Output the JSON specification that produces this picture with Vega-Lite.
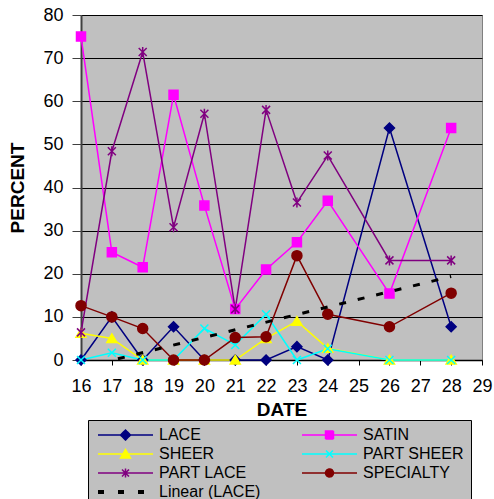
{
  "$schema": "https://vega.github.io/schema/vega-lite/v6.json",
  "width": 401,
  "height": 345,
  "autosize": "none",
  "padding": {"left": 81, "top": 15, "right": 12, "bottom": 139},
  "background": "white",
  "config": {
    "view": {"fill": "#C0C0C0", "stroke": "#808080", "strokeWidth": 1},
    "font": "Liberation Sans"
  },
  "data": {
    "values": [
      {"s": "LACE", "d": 16, "v": 0}, {"s": "LACE", "d": 17, "v": 10}, {"s": "LACE", "d": 18, "v": 0},
      {"s": "LACE", "d": 19, "v": 7.7}, {"s": "LACE", "d": 20, "v": 0}, {"s": "LACE", "d": 21, "v": 0},
      {"s": "LACE", "d": 22, "v": 0}, {"s": "LACE", "d": 23, "v": 3.1}, {"s": "LACE", "d": 24, "v": 0},
      {"s": "LACE", "d": 26, "v": 53.8}, {"s": "LACE", "d": 28, "v": 7.7},
      {"s": "SATIN", "d": 16, "v": 75}, {"s": "SATIN", "d": 17, "v": 25}, {"s": "SATIN", "d": 18, "v": 21.5},
      {"s": "SATIN", "d": 19, "v": 61.5}, {"s": "SATIN", "d": 20, "v": 35.8}, {"s": "SATIN", "d": 21, "v": 11.8},
      {"s": "SATIN", "d": 22, "v": 21}, {"s": "SATIN", "d": 23, "v": 27.3}, {"s": "SATIN", "d": 24, "v": 36.9},
      {"s": "SATIN", "d": 26, "v": 15.4}, {"s": "SATIN", "d": 28, "v": 53.8},
      {"s": "SHEER", "d": 16, "v": 6.2}, {"s": "SHEER", "d": 17, "v": 5}, {"s": "SHEER", "d": 18, "v": 0},
      {"s": "SHEER", "d": 19, "v": 0}, {"s": "SHEER", "d": 20, "v": 0}, {"s": "SHEER", "d": 21, "v": 0},
      {"s": "SHEER", "d": 22, "v": 5}, {"s": "SHEER", "d": 23, "v": 9}, {"s": "SHEER", "d": 24, "v": 2.7},
      {"s": "SHEER", "d": 26, "v": 0}, {"s": "SHEER", "d": 28, "v": 0},
      {"s": "PART SHEER", "d": 16, "v": 0}, {"s": "PART SHEER", "d": 17, "v": 1.7}, {"s": "PART SHEER", "d": 18, "v": 0},
      {"s": "PART SHEER", "d": 19, "v": 0}, {"s": "PART SHEER", "d": 20, "v": 7.3}, {"s": "PART SHEER", "d": 21, "v": 3.5},
      {"s": "PART SHEER", "d": 22, "v": 10.6}, {"s": "PART SHEER", "d": 23, "v": 0}, {"s": "PART SHEER", "d": 24, "v": 2.6},
      {"s": "PART SHEER", "d": 26, "v": 0}, {"s": "PART SHEER", "d": 28, "v": 0},
      {"s": "PART LACE", "d": 16, "v": 6.4}, {"s": "PART LACE", "d": 17, "v": 48.4}, {"s": "PART LACE", "d": 18, "v": 71.4},
      {"s": "PART LACE", "d": 19, "v": 30.8}, {"s": "PART LACE", "d": 20, "v": 57.1}, {"s": "PART LACE", "d": 21, "v": 11.8},
      {"s": "PART LACE", "d": 22, "v": 58}, {"s": "PART LACE", "d": 23, "v": 36.5}, {"s": "PART LACE", "d": 24, "v": 47.4},
      {"s": "PART LACE", "d": 26, "v": 23.1}, {"s": "PART LACE", "d": 28, "v": 23.1},
      {"s": "SPECIALTY", "d": 16, "v": 12.6}, {"s": "SPECIALTY", "d": 17, "v": 10}, {"s": "SPECIALTY", "d": 18, "v": 7.3},
      {"s": "SPECIALTY", "d": 19, "v": 0}, {"s": "SPECIALTY", "d": 20, "v": 0}, {"s": "SPECIALTY", "d": 21, "v": 5.2},
      {"s": "SPECIALTY", "d": 22, "v": 5.4}, {"s": "SPECIALTY", "d": 23, "v": 24.2}, {"s": "SPECIALTY", "d": 24, "v": 10.6},
      {"s": "SPECIALTY", "d": 26, "v": 7.7}, {"s": "SPECIALTY", "d": 28, "v": 15.5}
    ]
  },
  "encoding": {
    "x": {
      "field": "d", "type": "quantitative",
      "scale": {"domain": [16, 29], "nice": false, "zero": false},
      "axis": {
        "title": "DATE", "values": [16,17,18,19,20,21,22,23,24,25,26,27,28,29],
        "grid": false, "domainColor": "#000000", "domainWidth": 1.5, "tickColor": "#000000", "tickSize": 5,
        "labelFont": "Liberation Sans", "labelFontSize": 18, "labelColor": "#000000", "labelPadding": 12,
        "labelFlush": false, "labelOverlap": false,
        "titleFont": "Liberation Sans", "titleFontSize": 19, "titleFontWeight": "bold", "titleColor": "#000000", "titlePadding": 5
      }
    },
    "y": {
      "field": "v", "type": "quantitative",
      "scale": {"domain": [0, 80], "nice": false},
      "axis": {
        "title": "PERCENT", "values": [0,10,20,30,40,50,60,70,80],
        "grid": true, "gridColor": "#000000", "gridWidth": 1, "gridOpacity": 1,
        "domainColor": "#404040", "domainWidth": 2, "tickColor": "#404040", "tickSize": 9,
        "labelFont": "Liberation Sans", "labelFontSize": 18, "labelColor": "#000000", "labelPadding": 9,
        "labelFlush": false, "labelOverlap": false,
        "titleFont": "Liberation Sans", "titleFontSize": 19, "titleFontWeight": "bold", "titleColor": "#000000", "titlePadding": 15
      }
    }
  },
  "layer": [
    {
      "mark": {"type": "line", "strokeWidth": 1.5},
      "encoding": {
        "color": {
          "field": "s", "type": "nominal",
          "scale": {
            "domain": ["LACE", "SATIN", "SHEER", "PART SHEER", "PART LACE", "SPECIALTY", "Linear (LACE)"],
            "range": ["#000080", "#FF00FF", "#FFFF00", "#00FFFF", "#800080", "#800000", "#000000"]
          },
          "legend": {
            "orient": "none", "legendX": 7, "legendY": 405, "columns": 2, "direction": "horizontal", "title": null,
            "fillColor": "#C0C0C0", "strokeColor": "#000000", "padding": 7,
            "labelFont": "Liberation Sans", "labelFontSize": 16, "labelColor": "#000000", "labelLimit": 200,
            "symbolSize": 100, "symbolOffset": 22.5, "labelOffset": 25.5,
            "rowPadding": 3, "columnPadding": 38,
            "encode": {
              "symbols": {
                "update": {
                  "shape": {"signal": "datum.value === 'LACE' ? 'M-5.5,0H5.5M0,-1L1,0L0,1L-1,0Z' : datum.value === 'SATIN' ? 'M-5.5,0H5.5M-0.8,-0.8H0.8V0.8H-0.8Z' : datum.value === 'SHEER' ? 'M-5.5,0H5.5M0,-0.9L1,0.8L-1,0.8Z' : datum.value === 'PART SHEER' ? 'M-5.5,0H5.5M-0.7,-0.7L0.7,0.7M-0.7,0.7L0.7,-0.7' : datum.value === 'PART LACE' ? 'M-5.5,0H5.5M-0.7,-0.7L0.7,0.7M-0.7,0.7L0.7,-0.7M0,-0.9L0,0.9' : datum.value === 'SPECIALTY' ? 'M-5.5,0H5.5M-0.8,0A0.8,0.8 0 1,0 0.8,0A0.8,0.8 0 1,0 -0.8,0Z' : 'M-5.5,0H5.5'"},
                  "fill": {"scale": "color", "field": "value"},
                  "stroke": {"scale": "color", "field": "value"},
                  "fillOpacity": {"value": 1},
                  "opacity": {"value": 1},
                  "strokeWidth": {"signal": "datum.value === 'Linear (LACE)' ? 4 : 1.5"},
                  "strokeDash": {"signal": "datum.value === 'Linear (LACE)' ? [6, 14] : [1, 0]"}
                }
              }
            }
          }
        }
      }
    },
    {
      "mark": {"type": "point", "opacity": 1, "fillOpacity": 1, "strokeWidth": 1.5, "size": 100},
      "encoding": {
        "fill": {
          "field": "s", "type": "nominal",
          "scale": {
            "domain": ["LACE", "SATIN", "SHEER", "PART SHEER", "PART LACE", "SPECIALTY"],
            "range": ["#000080", "#FF00FF", "#FFFF00", "#00FFFF", "#800080", "#800000"]
          },
          "legend": null
        },
        "stroke": {
          "field": "s", "type": "nominal",
          "scale": {
            "domain": ["LACE", "SATIN", "SHEER", "PART SHEER", "PART LACE", "SPECIALTY"],
            "range": ["#000080", "#FF00FF", "#FFFF00", "#00FFFF", "#800080", "#800000"]
          },
          "legend": null
        },
        "shape": {
          "field": "s", "type": "nominal",
          "scale": {
            "domain": ["LACE", "SATIN", "SHEER", "PART SHEER", "PART LACE", "SPECIALTY"],
            "range": ["M0,-1L1,0L0,1L-1,0Z", "M-0.9,-0.9H0.9V0.9H-0.9Z", "M0,-0.9L1,0.8L-1,0.8Z", "M-0.8,-0.8L0.8,0.8M-0.8,0.8L0.8,-0.8", "M-0.8,-0.8L0.8,0.8M-0.8,0.8L0.8,-0.8M0,-1L0,1", "circle"]
          },
          "legend": null
        }
      }
    },
    {
      "transform": [
        {"filter": "datum.s === 'LACE'"},
        {"regression": "v", "on": "d", "method": "linear", "extent": [16, 28]}
      ],
      "mark": {"type": "line", "strokeWidth": 3, "strokeDash": [7, 12], "clip": true},
      "encoding": {
        "color": {"datum": "Linear (LACE)"}
      }
    }
  ]
}
